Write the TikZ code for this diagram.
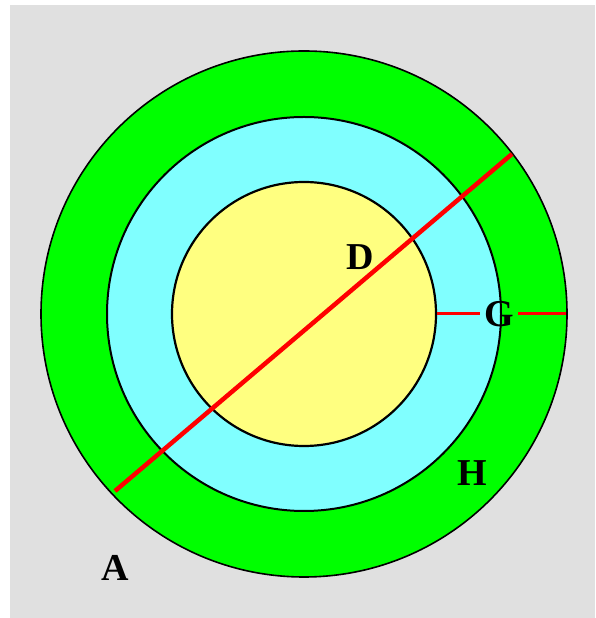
\documentclass[tikz,border=0pt]{standalone}
\usepackage{fontspec}
\setmainfont{Liberation Serif}
\definecolor{bggray}{HTML}{E0E0E0}
\definecolor{ringgreen}{HTML}{00FF00}
\definecolor{ringcyan}{HTML}{80FFFF}
\definecolor{coreyellow}{HTML}{FFFF80}
\tikzset{
  letter/.style={font=\fontsize{38}{40}\selectfont\bfseries, inner sep=4pt},
  redline/.style={red, line width=3pt},
}
\begin{document}
\begin{tikzpicture}[x=1pt, y=1pt]
  \useasboundingbox (0,0) rectangle (595,618);
  % 1. background
  \fill[bggray] (10,0) rectangle (595,613);

  % 2. rings
  \coordinate (O) at (304,304);
  \draw[draw=black, fill=ringgreen, line width=1.6pt] (O) circle (263);
  \draw[draw=black, fill=ringcyan, line width=2pt] (O) circle (197);
  \draw[draw=black, fill=coreyellow, line width=2.2pt] (O) circle (132);

  % 3. labels
  \node[letter] (lblD) at (360,361) {D};
  \node[letter] (lblG) at (499,304) {G};
  \node[letter] (lblH) at (472,145) {H};
  \node[letter] (lblA) at (115,50) {A};

  % 4. red lines
  \coordinate (d1) at (115,127);
  \coordinate (d2) at (512,464);
  \coordinate (g1) at (437,304);
  \coordinate (g2) at (566,304);
  \draw[redline, line width=4.5pt] (d1) -- (d2);
  \draw[redline] (g1) -- (lblG) -- (g2);
\end{tikzpicture}
\end{document}
